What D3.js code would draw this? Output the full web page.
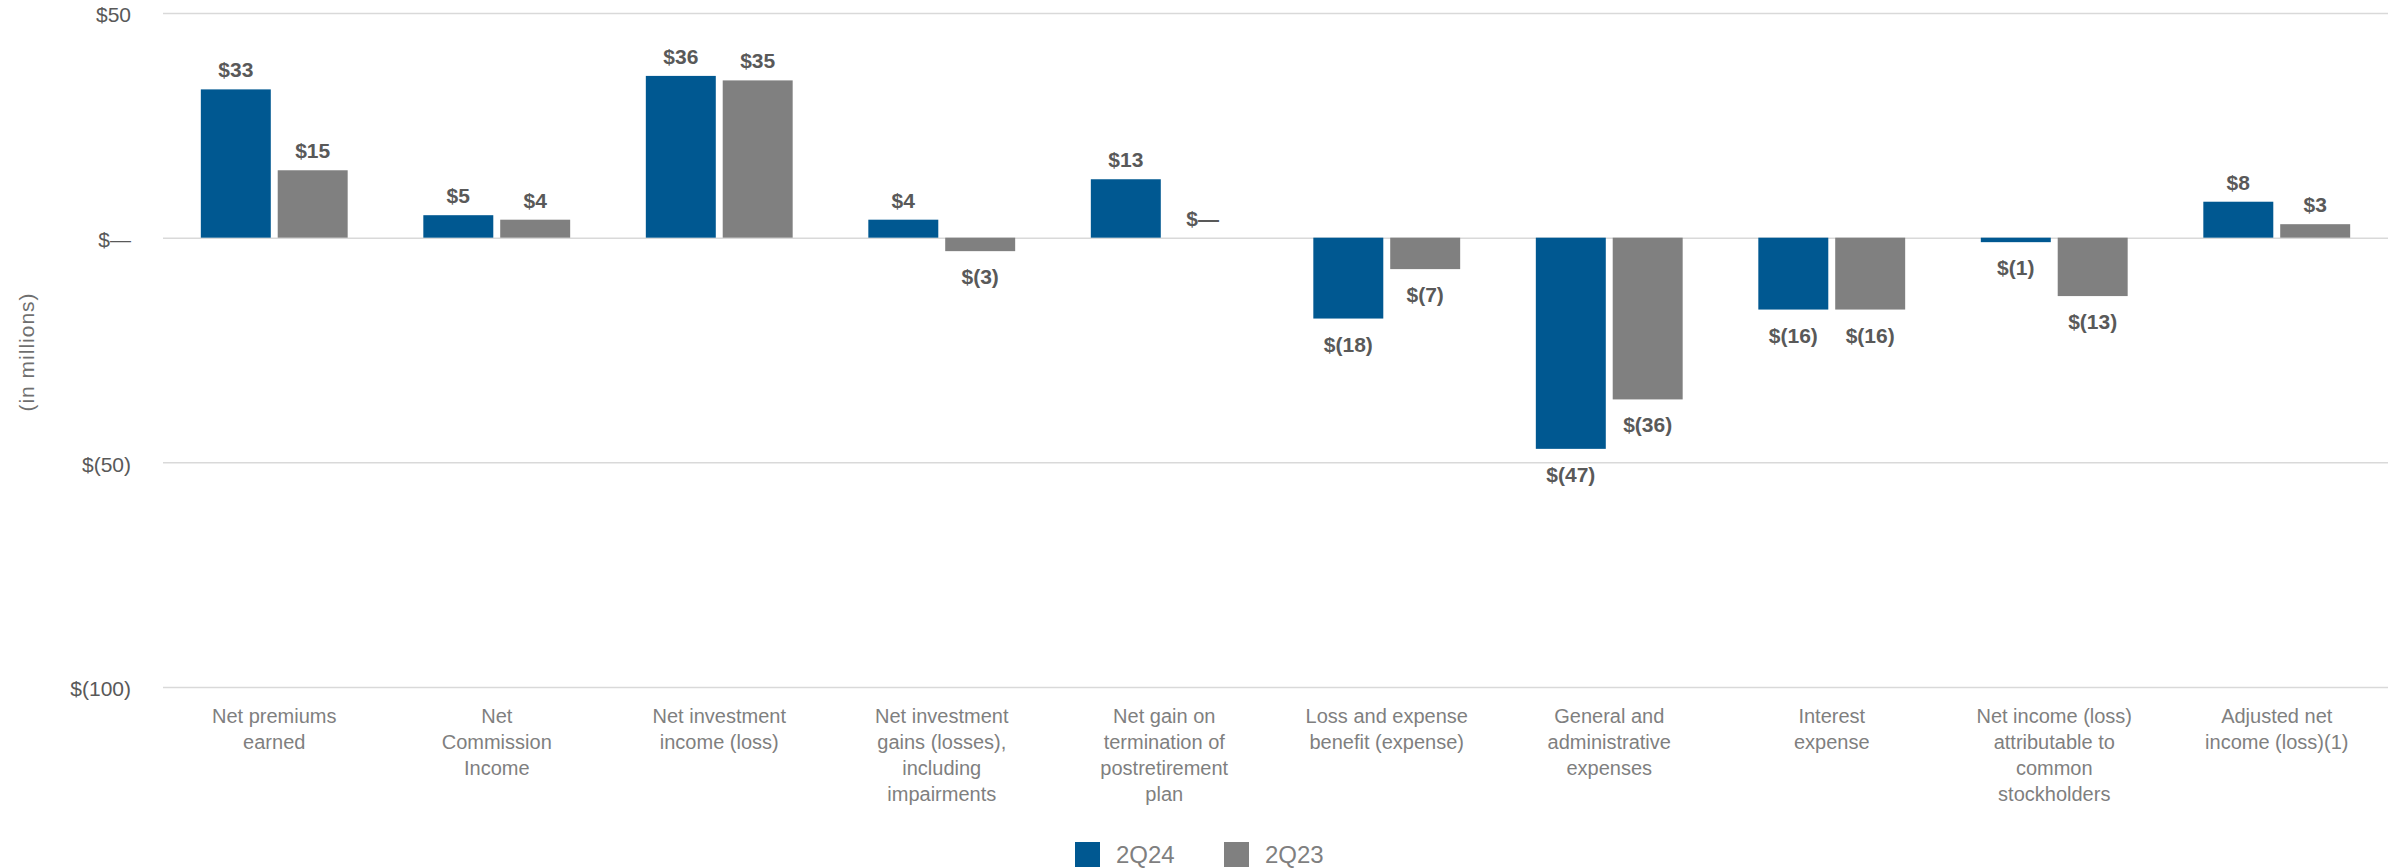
<!DOCTYPE html>
<html>
<head>
<meta charset="utf-8">
<script src="https://cdn.jsdelivr.net/npm/d3@7/dist/d3.min.js"></script>
<style>
  html, body { margin: 0; padding: 0; background: #ffffff; }
  svg { display: block; font-family: "Liberation Sans", Arial, sans-serif; }
</style>
</head>
<body>
<svg id="chart" width="2399" height="868"></svg>
<script>
// Segment results, in millions of dollars
const categories = [
  "Net premiums earned",
  "Net Commission Income",
  "Net investment income (loss)",
  "Net investment gains (losses), including impairments",
  "Net gain on termination of postretirement plan",
  "Loss and expense benefit (expense)",
  "General and administrative expenses",
  "Interest expense",
  "Net income (loss) attributable to common stockholders",
  "Adjusted net income (loss)(1)"
];
// Wrapped category labels as shown under the axis
const categoryLines = [
  ["Net premiums", "earned"],
  ["Net", "Commission", "Income"],
  ["Net investment", "income (loss)"],
  ["Net investment", "gains (losses),", "including", "impairments"],
  ["Net gain on", "termination of", "postretirement", "plan"],
  ["Loss and expense", "benefit (expense)"],
  ["General and", "administrative", "expenses"],
  ["Interest", "expense"],
  ["Net income (loss)", "attributable to", "common", "stockholders"],
  ["Adjusted net", "income (loss)(1)"]
];
const seriesNames = ["2Q24", "2Q23"];
const values2Q24 = [33, 5, 36, 4, 13, -18, -47, -16, -1, 8];
const values2Q23 = [15, 4, 35, -3, 0, -7, -36, -16, -13, 3];
const yTicks = [50, 0, -50, -100];
const yTickLabels = ["$50", "$—", "$(50)", "$(100)"];

const colors = { "2Q24": "#005891", "2Q23": "#808080" };

const fmt = v => v === 0 ? "$—" : (v < 0 ? "$(" + Math.abs(v) + ")" : "$" + v);

const svg = d3.select("#chart");

const plot = { left: 163, right: 2388, top: 13, bottom: 687 };

const x0 = d3.scaleBand()
  .domain(categories)
  .range([plot.left, plot.right])
  .paddingInner(0.34)
  .paddingOuter(0.17);

const x1 = d3.scaleBand()
  .domain(seriesNames)
  .range([0, x0.bandwidth()])
  .paddingInner(0.09);

const y = d3.scaleLinear()
  .domain([-100, 50])
  .range([plot.bottom, plot.top]);

// Horizontal gridlines with dollar tick labels
const yAxis = d3.axisLeft(y)
  .tickValues(yTicks)
  .tickSize(-(plot.right - plot.left))
  .tickPadding(32)
  .tickFormat((d, i) => yTickLabels[i]);

const gy = svg.append("g")
  .attr("transform", `translate(${plot.left},0)`)
  .call(yAxis);
gy.select(".domain").remove();
gy.selectAll(".tick line").attr("stroke", "#d9d9d9").attr("stroke-width", 1.5);
gy.selectAll(".tick text")
  .attr("fill", "#595959")
  .attr("font-size", 21)
  .attr("dy", "0.42em")
  .style("font-family", "'Liberation Sans', Arial, sans-serif");

// Axis title
svg.append("text")
  .attr("transform", `translate(34,352) rotate(-90)`)
  .attr("text-anchor", "middle")
  .attr("fill", "#6f6f6f")
  .attr("font-size", 21)
  .attr("letter-spacing", 1)
  .text("(in millions)");

// Bars
const rows = categories.map((c, i) => ({
  category: c,
  items: [
    { series: "2Q24", value: values2Q24[i] },
    { series: "2Q23", value: values2Q23[i] }
  ]
}));

const groups = svg.append("g").selectAll("g")
  .data(rows)
  .join("g")
  .attr("transform", d => `translate(${x0(d.category)},0)`);

groups.selectAll("rect")
  .data(d => d.items)
  .join("rect")
  .attr("x", d => x1(d.series))
  .attr("width", x1.bandwidth())
  .attr("y", d => y(Math.max(0, d.value)))
  .attr("height", d => Math.abs(y(d.value) - y(0)))
  .attr("fill", d => colors[d.series]);

// Value labels
groups.selectAll("text.val")
  .data(d => d.items)
  .join("text")
  .attr("class", "val")
  .attr("x", d => x1(d.series) + x1.bandwidth() / 2)
  .attr("y", d => d.value >= 0 ? y(d.value) - 12 : y(d.value) + 33)
  .attr("text-anchor", "middle")
  .attr("font-size", 21)
  .attr("font-weight", "bold")
  .attr("fill", "#595959")
  .text(d => fmt(d.value));

// Category labels
const cat = svg.append("g").selectAll("text")
  .data(categories)
  .join("text")
  .attr("x", d => x0(d) + x0.bandwidth() / 2)
  .attr("y", 723)
  .attr("text-anchor", "middle")
  .attr("font-size", 20)
  .attr("fill", "#7f7f7f");
cat.selectAll("tspan")
  .data((d, i) => categoryLines[i])
  .join("tspan")
  .attr("x", function () { return d3.select(this.parentNode).attr("x"); })
  .attr("dy", (d, i) => i === 0 ? 0 : 26)
  .text(d => d);

// Legend
const legend = svg.append("g").attr("transform", "translate(1075,842)");
const legendX = [0, 149];
seriesNames.forEach((s, i) => {
  const g = legend.append("g").attr("transform", `translate(${legendX[i]},0)`);
  g.append("rect").attr("width", 25).attr("height", 25).attr("fill", colors[s]);
  g.append("text")
    .attr("x", 41)
    .attr("y", 21)
    .attr("font-size", 24)
    .attr("fill", "#7f7f7f")
    .text(s);
});
</script>
</body>
</html>
